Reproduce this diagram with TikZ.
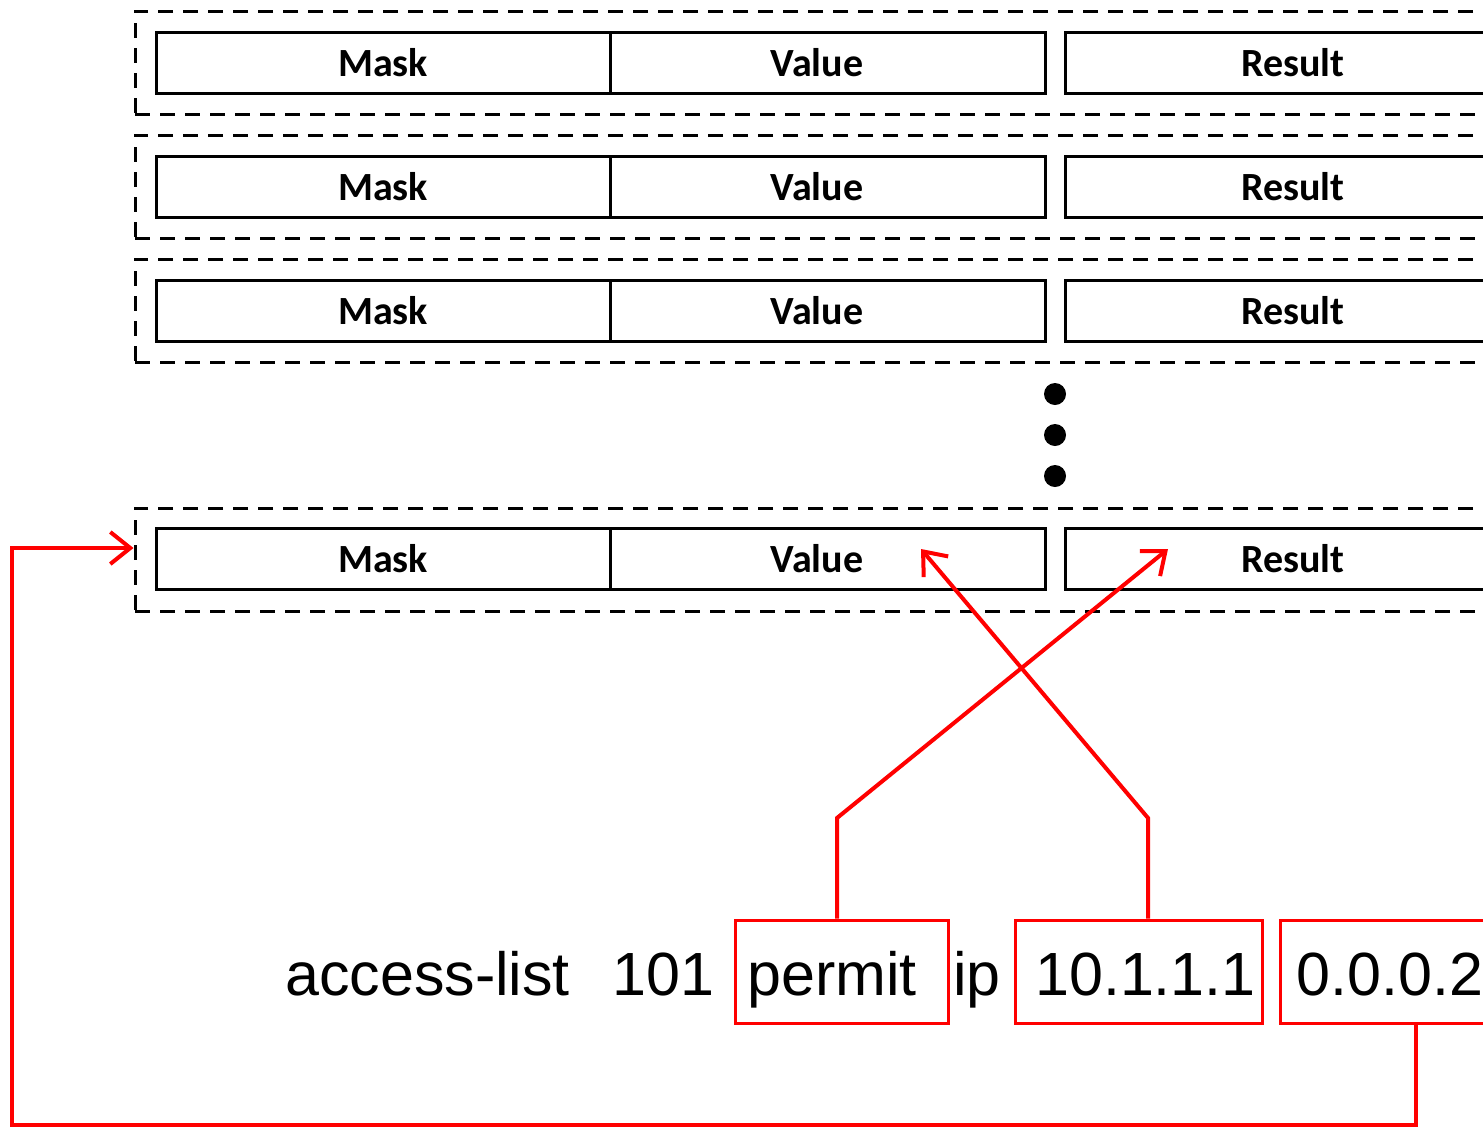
\documentclass[tikz,border=0pt]{standalone}
\usepackage{fontspec}
\usetikzlibrary{arrows.meta}
\newfontfamily\carlitofont{Carlito}
\newfontfamily\arialfont{Liberation Sans}
\newcommand\mycellfont{\carlitofont\bfseries\fontsize{40}{48}\selectfont}
\newcommand\mycmdfont{\arialfont\fontsize{61}{70}\selectfont}
\begin{document}
\begin{tikzpicture}[x=1pt,y=-1pt,
  cell/.style={draw=black, line width=3pt, minimum height=61pt, inner sep=0pt},
  celltext/.style={font=\mycellfont, inner sep=0pt},
  frame/.style={draw=black, dash pattern=on 15pt off 10pt, line width=3pt,
    minimum height=103pt, minimum width=1405pt, inner sep=0pt},
  redbox/.style={draw=red, line width=3pt, inner sep=0pt, minimum height=103pt},
  cmdtext/.style={font=\mycmdfont, inner sep=0pt, text height=44pt, text depth=13pt, yshift=-8pt},
  cmd/.style={font=\mycmdfont, inner sep=0pt, anchor=base west},
  redline/.style={draw=red, line width=4pt, line join=miter},
  redarrow/.style={redline, -{Straight Barb[length=20pt,width=32pt,line width=4pt]}},
  dot/.style={circle, fill=black, minimum size=22pt, inner sep=0pt}]
\useasboundingbox (0,0) rectangle (1483,1128);
\clip (0,0) rectangle (1483,1128);
\fill[white] (0,0) rectangle (1483,1128);
% rows
\foreach \r/\y/\fy in {1/62.5/62.5, 2/186.5/186.5, 3/310.5/310.5, 4/558.5/559.5}{
  \node[frame] (o\r) at (837.5,\fy) {};
  \node[cell, minimum width=454pt, label={[celltext]center:Mask}] (m\r) at (383,\y) {};
  \node[cell, minimum width=435pt, label={[celltext, xshift=-10.5pt]center:Value}] (v\r) at (827.5,\y) {};
  \node[cell, minimum width=456pt, label={[celltext]center:Result}] (r\r) at (1293,\y) {};
}
% dots
\node[dot] (d1) at (1055,394) {};
\node[dot] (d2) at (1055,435) {};
\node[dot] (d3) at (1055,476) {};
% command line
\node[cmd] (acl) at (285,995) {access-list};
\node[cmd] (num) at (612,995) {101};
\node[redbox, minimum width=213pt, label={[cmdtext, xshift=-9.5pt]center:permit}] (pbox) at (841.5,971.5) {};
\node[cmd] (ipt) at (953,995) {ip};
\node[redbox, minimum width=247pt, label={[cmdtext, xshift=7pt]center:10.1.1.1}] (abox) at (1138.5,971.5) {};
\node[redbox, minimum width=220pt, label={[cmdtext]center:0.0.0.2}] (wbox) at (1390,971.5) {};
% arrow tips
\coordinate (rtip) at (1168,549);
\coordinate (vtip) at (921,549);
% red connectors
\draw[redarrow] (pbox.north -| 837,0) -- (837,818) -- (rtip);
\draw[redarrow] (abox.north -| 1148,0) -- (1148,818) -- (vtip);
\draw[redarrow] (wbox.south -| 1416,0) -- (1416,1125) -- (12,1125) -- (12,548) -- (o4.west |- 0,548);
\end{tikzpicture}
\end{document}
